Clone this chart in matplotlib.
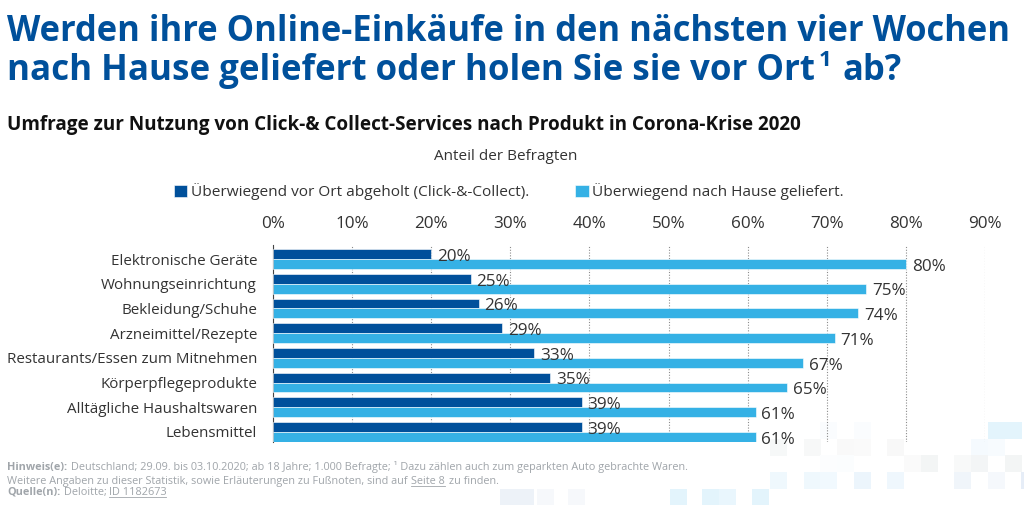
import matplotlib
matplotlib.use("Agg")
import matplotlib.pyplot as plt
from matplotlib.lines import Line2D
from matplotlib.patches import Rectangle

plt.rcParams['font.family'] = ['Open Sans', 'DejaVu Sans']

categories = ["Elektronische Geräte", "Wohnungseinrichtung", "Bekleidung/Schuhe", "Arzneimittel/Rezepte",
              "Restaurants/Essen zum Mitnehmen", "Körperpflegeprodukte", "Alltägliche Haushaltswaren", "Lebensmittel"]
abgeholt = [20, 25, 26, 29, 33, 35, 39, 39]
geliefert = [80, 75, 74, 71, 67, 65, 61, 61]
ticks = [0, 10, 20, 30, 40, 50, 60, 70, 80, 90]

W, H = 1024, 505
DARK = "#00509b"
LIGHT = "#35b1e5"
TEXT = "#333333"

def fx(px):
    return px / W

def fy(py):
    return 1 - py / H

fig = plt.figure(figsize=(W / 100, H / 100), dpi=100, facecolor="white")

# pale mosaic in the background: (x, y, colour) in pixels
cell = 16.8
mosaic = [
    (820, 422, "#fafcfe"), (854, 422, "#fafcfe"), (988, 422, "#e3f4fc"), (1005, 422, "#e3f4fc"),
    (770, 439, "#f6f8f8"), (804, 439, "#f7f8f8"), (837, 439, "#f9f9f9"), (854, 439, "#fafafa"),
    (887, 439, "#f8f8f8"), (971, 439, "#f5fafe"), (988, 439, "#f7fbfe"),
    (820, 455, "#fcfdfe"), (837, 455, "#fbfdfe"), (904, 455, "#fafafa"), (921, 455, "#f3f5f5"),
    (954, 455, "#f8f9f9"), (971, 455, "#f3f5f6"), (1005, 455, "#f3f5f5"),
    (770, 472, "#eff8fd"), (804, 472, "#eff8fd"), (820, 472, "#f1f9fe"), (854, 472, "#ecf5fc"),
    (887, 472, "#eff7fd"), (954, 472, "#f0f5fa"), (988, 472, "#f5f8fc"), (1021, 472, "#e6edf7"),
    (500, 489, "#edf2f8"), (517, 489, "#edf2f8"), (537, 489, "#f6f8fb"), (568, 489, "#f6f8fb"),
    (670, 489, "#e3f4fc"), (702, 489, "#e3f4fc"), (719, 489, "#e9f6fd"), (752, 489, "#e3f4fc"),
]
for mx, my, mc in mosaic:
    fig.add_artist(Rectangle((fx(mx), fy(my + cell)), cell / W, cell / H, transform=fig.transFigure,
                             facecolor=mc, edgecolor="none", zorder=-5))

# title
fig.text(fx(7), fy(32), "Werden ihre Online-Einkäufe in den nächsten vier Wochen", fontsize=24.85,
         fontweight="bold", color=DARK, va="center")
fig.text(fx(7), fy(71), "nach Hause geliefert oder holen Sie sie vor Ort", fontsize=25.1,
         fontweight="bold", color=DARK, va="center")
fig.text(fx(819), fy(60), "1", fontsize=16, fontweight="bold", color=DARK, va="center")
fig.text(fx(843), fy(71), "ab?", fontsize=24.85, fontweight="bold", color=DARK, va="center")

fig.text(fx(7), fy(125), "Umfrage zur Nutzung von Click-& Collect-Services nach Produkt in Corona-Krise 2020",
         fontsize=13.55, fontweight="bold", color="#111111", va="center")
fig.text(fx(506), fy(157), "Anteil der Befragten", fontsize=11, color=TEXT, va="center", ha="center")

ax = fig.add_axes([fx(273), fy(442), (985 - 273) / W, (442 - 245) / H])
ax.patch.set_alpha(0)
ypos = list(range(len(categories)))
bar_dark = ax.barh([y - 0.2 for y in ypos], abgeholt, height=0.4, color=DARK, edgecolor="white",
                   linewidth=0.4, label="Überwiegend vor Ort abgeholt (Click-&-Collect).", zorder=3)
bar_light = ax.barh([y + 0.2 for y in ypos], geliefert, height=0.4, color=LIGHT, edgecolor="white",
                    linewidth=0.4, label="Überwiegend nach Hause geliefert.", zorder=3)
for bars in (bar_dark, bar_light):
    for b in bars:
        ax.annotate(f"{b.get_width():.0f}%", (b.get_width(), b.get_y() + b.get_height() / 2),
                    xytext=(4.2, -2), textcoords="offset points", va="center", fontsize=12.3,
                    color=TEXT, zorder=4)

ax.set_xlim(0, 90)
ax.set_ylim(7.41, -0.57)
ax.set_xticks(ticks)
ax.set_xticklabels([f"{t}%" for t in ticks])
ax.set_yticks(ypos)
ax.set_yticklabels(categories)
ax.xaxis.tick_top()
ax.tick_params(axis="x", length=0, pad=9, labelsize=12.3, labelcolor=TEXT)
ax.tick_params(axis="y", length=0, pad=11.5, labelsize=10.9, labelcolor=TEXT)
ax.grid(axis="x", linestyle=(0, (1, 1.5)), color="#8c8c8c", linewidth=0.8, zorder=0)
ax.set_axisbelow(True)
for side in ["top", "right", "bottom"]:
    ax.spines[side].set_visible(False)
ax.spines["left"].set_color("#444444")
ax.spines["left"].set_linewidth(0.8)

fig.legend(handles=[bar_dark, bar_light], loc="center", bbox_to_anchor=(fx(509), fy(192)), ncol=2,
           frameon=False, fontsize=11.1, handlelength=0.85, handleheight=0.85, handletextpad=0.25,
           columnspacing=3.0, labelcolor=TEXT)

# footer
GREY = "#a0a5aa"
FS = 7.8
fig.text(fx(7), fy(470), "Hinweis(e):", fontsize=FS, fontweight="bold", color=GREY)
fig.text(fx(71), fy(470), "Deutschland; 29.09. bis 03.10.2020; ab 18 Jahre; 1.000 Befragte; ¹ Dazu zählen auch zum geparkten Auto gebrachte Waren.",
         fontsize=FS, color=GREY)
fig.text(fx(7), fy(484), "Weitere Angaben zu dieser Statistik, sowie Erläuterungen zu Fußnoten, sind auf", fontsize=FS, color=GREY)
fig.text(fx(411), fy(484), "Seite 8", fontsize=FS, color=GREY)
fig.text(fx(449), fy(484), "zu finden.", fontsize=FS, color=GREY)
fig.text(fx(7), fy(495), "Quelle(n):", fontsize=FS, fontweight="bold", color=GREY)
fig.text(fx(64), fy(495), "Deloitte;", fontsize=FS, color=GREY)
fig.text(fx(109), fy(495), "ID 1182673", fontsize=FS, color=GREY)
for x0, x1, yy in [(411, 445, 486), (109, 166, 497)]:
    fig.add_artist(Line2D([fx(x0), fx(x1)], [fy(yy), fy(yy)], color=GREY, linewidth=0.6))

fig.savefig("out.png", dpi=100)
